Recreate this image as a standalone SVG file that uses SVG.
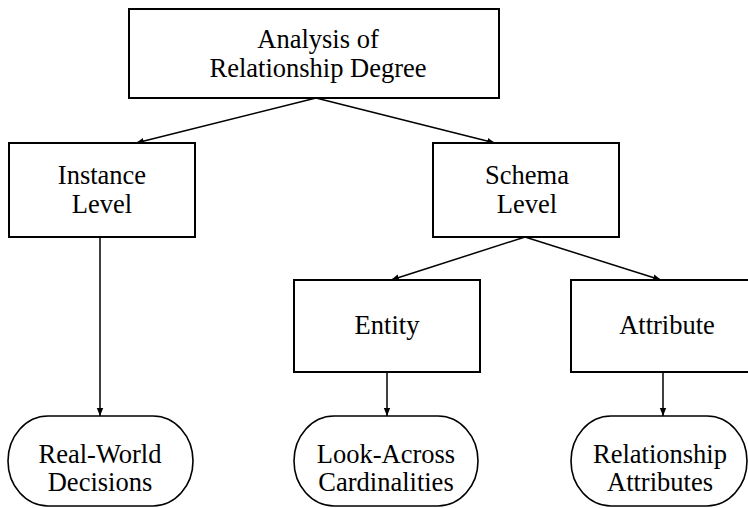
<svg xmlns="http://www.w3.org/2000/svg" width="748" height="508" viewBox="0 0 748 508">
<defs>
<marker id="ah" viewBox="0 0 10 10" refX="10" refY="5" markerWidth="8" markerHeight="8" markerUnits="userSpaceOnUse" orient="auto">
<path d="M0,1 L10,5 L0,9 z" fill="#000"/>
</marker>
<style>
.box{fill:#fff;stroke:#000;stroke-width:2}
.oval{fill:#fff;stroke:#000;stroke-width:1.6}
text{font-family:'Liberation Serif','Times New Roman',serif;font-size:26.5px;fill:#000;text-anchor:middle}
.c{fill:none;stroke:#000;stroke-width:1.5;marker-end:url(#ah)}
</style>
</defs>
<rect width="748" height="508" fill="#fff"/>
<g id="connectors">
<line class="c" x1="316" y1="98" x2="136" y2="143"/>
<line class="c" x1="316" y1="98" x2="495" y2="143"/>
<line class="c" x1="100" y1="237" x2="100" y2="416"/>
<line class="c" x1="525" y1="237" x2="391" y2="280"/>
<line class="c" x1="525" y1="237" x2="661" y2="280"/>
<line class="c" x1="387" y1="372" x2="387" y2="416"/>
<line class="c" x1="663" y1="372" x2="663" y2="416"/>
</g>
<g id="analysis">
<rect class="box" x="129" y="9" width="370" height="89"/>
<text x="318" y="48">Analysis of</text>
<text x="318" y="77">Relationship Degree</text>
</g>
<g id="instance">
<rect class="box" x="9" y="143" width="186" height="94"/>
<text x="102" y="184">Instance</text>
<text x="102" y="213">Level</text>
</g>
<g id="schema">
<rect class="box" x="433" y="143" width="186" height="94"/>
<text x="527" y="184">Schema</text>
<text x="527" y="213">Level</text>
</g>
<g id="entity">
<rect class="box" x="294" y="280" width="186" height="92"/>
<text x="387" y="334">Entity</text>
</g>
<g id="attribute">
<rect class="box" x="571" y="280" width="190" height="92"/>
<text x="667" y="334">Attribute</text>
</g>
<g id="realworld">
<rect class="oval" x="8" y="416" width="185" height="90" rx="40" ry="45"/>
<text x="100" y="463">Real-World</text>
<text x="100" y="491">Decisions</text>
</g>
<g id="lookacross">
<rect class="oval" x="294" y="416" width="184" height="90" rx="40" ry="45"/>
<text x="386" y="463">Look-Across</text>
<text x="386" y="491">Cardinalities</text>
</g>
<g id="relattr">
<rect class="oval" x="571" y="416" width="176" height="90" rx="40" ry="45"/>
<text x="660" y="463">Relationship</text>
<text x="660" y="491">Attributes</text>
</g>
</svg>
